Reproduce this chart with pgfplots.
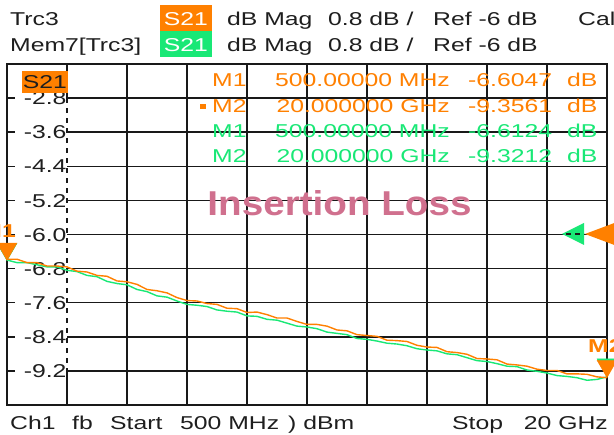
\documentclass[border=0pt]{standalone}
\usepackage{pgfplots}
\pgfplotsset{compat=1.18}
\usepackage{pgfplotstable}
\usepackage{fontspec}
\setmainfont{Liberation Sans}[FakeStretch=1.33]
\newfontfamily\ilfont{Liberation Sans}[FakeStretch=1.12]
\definecolor{tOr}{RGB}{255,128,0}
\definecolor{tGr}{RGB}{25,232,118}
\definecolor{pinkc}{RGB}{208,112,142}
\definecolor{gridc}{RGB}{25,25,25}
\definecolor{txt}{RGB}{30,30,30}

\pgfplotstableread{
f o g
0.5 -6.58 -6.60
0.825 -6.58 -6.66
1.15 -6.66 -6.66
1.475 -6.66 -6.71
1.8 -6.74 -6.76
2.125 -6.74 -6.76
2.45 -6.76 -6.84
2.775 -6.86 -6.87
3.1 -6.88 -6.96
3.425 -6.96 -6.99
3.75 -6.98 -7.10
4.075 -7.09 -7.15
4.4 -7.11 -7.18
4.725 -7.17 -7.29
5.05 -7.29 -7.34
5.375 -7.32 -7.44
5.7 -7.37 -7.47
6.025 -7.48 -7.56
6.35 -7.55 -7.64
6.675 -7.56 -7.66
7.0 -7.62 -7.69
7.325 -7.64 -7.77
7.65 -7.73 -7.80
7.975 -7.74 -7.82
8.3 -7.83 -7.91
8.625 -7.82 -7.92
8.95 -7.88 -7.99
9.275 -7.96 -8.01
9.6 -7.96 -8.08
9.925 -8.04 -8.15
10.25 -8.11 -8.17
10.575 -8.11 -8.21
10.9 -8.15 -8.29
11.225 -8.24 -8.32
11.55 -8.26 -8.35
11.875 -8.35 -8.44
12.2 -8.37 -8.46
12.525 -8.39 -8.50
12.85 -8.48 -8.55
13.175 -8.49 -8.57
13.5 -8.51 -8.61
13.825 -8.60 -8.68
14.15 -8.64 -8.71
14.475 -8.65 -8.73
14.8 -8.75 -8.80
15.125 -8.77 -8.82
15.45 -8.81 -8.89
15.775 -8.91 -8.96
16.1 -8.92 -8.98
16.425 -8.94 -9.03
16.75 -9.04 -9.09
17.075 -9.06 -9.10
17.4 -9.09 -9.18
17.725 -9.16 -9.21
18.05 -9.19 -9.25
18.375 -9.19 -9.31
18.7 -9.27 -9.33
19.025 -9.27 -9.36
19.35 -9.28 -9.42
19.675 -9.34 -9.40
20.0 -9.36 -9.34
}\tracedata

\begin{document}
\begin{tikzpicture}[every node/.style={font=\fontsize{18.6}{22}\selectfont, inner sep=0pt, text=txt}]
\path[use as bounding box, clip] (0,0) rectangle (614pt,435pt);
\fill[white] (0,0) rectangle (614pt,435pt);
\begin{axis}[at={(7pt,30pt)}, anchor=south west, scale only axis,
  width=600pt, height=341pt,
  xmin=0.5, xmax=20, ymin=-10, ymax=-2,
  xtick={0.5,4.4,6.35,8.3,10.25,12.2,14.15,16.1,18.05,20},
  ytick={-9.2,-8.4,-7.6,-6.8,-6.0,-5.2,-4.4,-3.6,-2.8},
  xticklabels={}, yticklabels={}, major tick length=0pt,
  grid=major, major grid style={line width=1.5pt, draw=gridc},
  axis line style={line width=1.7pt, draw=gridc},
  clip=false]
% y labels with white background (drawn under the traces)
\pgfplotsinvokeforeach{-2.8,-3.6,-4.4,-5.2,-6.0,-6.8,-7.6,-8.4,-9.2}{
  \fill[white] (axis cs:0.76,#1-0.16) rectangle (axis cs:2.44,#1+0.16);
  \node[anchor=base east, yshift=-6.7pt] at (axis cs:2.44,#1) {#1};
}
\draw[gridc, line width=1.5pt, dash pattern=on 5pt off 5pt] (axis cs:2.45,-2.8) -- (axis cs:2.45,-9.2);
\draw[gridc, line width=1.5pt] (axis cs:2.45,-9.2) -- (axis cs:2.45,-10);
\draw[gridc, line width=1.5pt] (axis cs:2.45,-2) -- (axis cs:2.45,-2.8);
\addplot[tGr, line width=1.4pt] table[x=f, y=g] {\tracedata};
\addplot[tOr, line width=1.4pt] table[x=f, y=o] {\tracedata};
% markers M1 / M2
\addplot[only marks, mark=triangle*, mark size=11.5pt, mark options={yshift=11.5pt, rotate=180, fill=tGr, draw=tGr}] coordinates {(0.5,-6.6124) (20,-9.3212)};
\addplot[only marks, mark=triangle*, mark size=11.5pt, mark options={yshift=11.5pt, rotate=180, fill=tOr, draw=tOr}] coordinates {(0.5,-6.6047) (20,-9.3561)};
\end{axis}
\begin{scope}[shift={(0pt,435pt)}, x=1pt, y=-1pt]
% S21 box in plot
\fill[tOr] (22,71) rectangle (68,93);
\node[anchor=base] at (45,89) {S21};
% header
\node[anchor=base west] at (10,25.6) {Trc3};
\node[anchor=base west] at (10,51.6) {Mem7[Trc3]};
\fill[tOr] (160,5) rectangle (212,30.7);
\fill[tGr] (160,30.7) rectangle (212,56.7);
\node[anchor=base, text=white] at (186,25.6) {S21};
\node[anchor=base, text=white] at (186,51.6) {S21};
\foreach \yb in {25.6,51.6}{
  \node[anchor=base west] at (227,\yb) {dB Mag};
  \node[anchor=base west] at (328,\yb) {0.8 dB /};
  \node[anchor=base west] at (433,\yb) {Ref -6 dB};
}
\node[anchor=base west] at (578,25.6) {Cal};
% marker table
\fill[tOr] (200,104) rectangle (206,109);
\foreach \yb/\c/\m/\fr/\val in {87/tOr/M1/500.00000 MHz/-6.6047, 113/tOr/M2/20.000000 GHz/-9.3561, 138/tGr/M1/500.00000 MHz/-6.6124, 163/tGr/M2/20.000000 GHz/-9.3212}{
  \node[anchor=base west, text=\c] at (212,\yb) {\m};
  \node[anchor=base east, text=\c] at (450,\yb) {\fr};
  \node[anchor=base west, text=\c] at (468,\yb) {\val};
  \node[anchor=base west, text=\c] at (567,\yb) {dB};
}
% title
\node[anchor=base, text=pinkc, font=\ilfont\bfseries\fontsize{34.5}{40}\selectfont] at (339.5,215.5) {Insertion Loss};
% reference level arrows
\fill[tGr] (562,234) -- (584,223) -- (584,245) -- cycle;
\draw[gridc, line width=1.4pt, dash pattern=on 5pt off 4pt] (566,234) -- (584,234);
\fill[tOr] (585,234) -- (617,222) -- (617,246) -- cycle;
% marker labels
\node[anchor=base east, text=tOr, font=\bfseries\fontsize{18.6}{22}\selectfont] at (16,238) {M1};
\node[anchor=base west, text=tOr, font=\bfseries\fontsize{18.6}{22}\selectfont] at (588,353) {M2};
% bottom line
\node[anchor=base west] at (10,430) {Ch1};
\node[anchor=base west] at (72,430) {fb};
\node[anchor=base west] at (110,430) {Start};
\node[anchor=base west] at (180,430) {500 MHz};
\node[anchor=base west] at (288,430) {) dBm};
\node[anchor=base west] at (452,430) {Stop};
\node[anchor=base east] at (608,430) {20 GHz};
\end{scope}
\end{tikzpicture}
\end{document}
